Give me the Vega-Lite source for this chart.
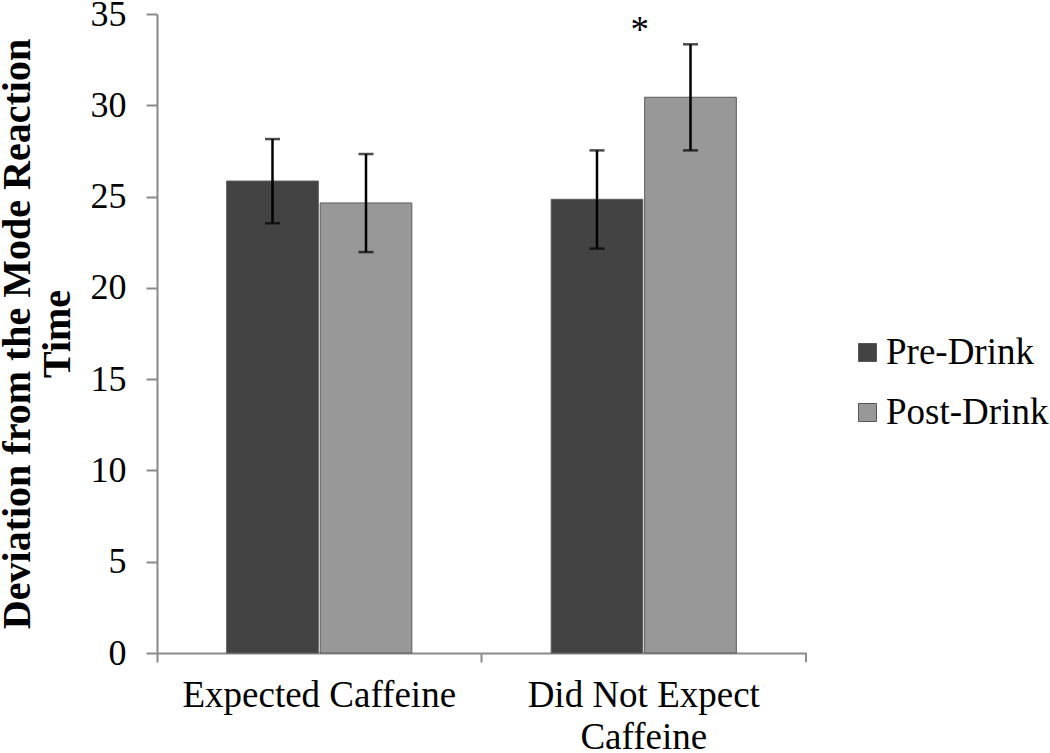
{
  "$schema": "https://vega.github.io/schema/vega-lite/v6.json",
  "width": 649,
  "height": 639,
  "autosize": {"type": "none"},
  "padding": {"left": 157, "top": 14, "right": 244, "bottom": 100},
  "background": "white",
  "config": {
    "view": {"stroke": null},
    "font": "Liberation Serif"
  },
  "datasets": {
    "bars": [
      {"group": "Expected Caffeine", "series": "Pre-Drink", "mean": 25.85, "lo": 23.54, "hi": 28.15},
      {"group": "Expected Caffeine", "series": "Post-Drink", "mean": 24.65, "lo": 21.96, "hi": 27.33},
      {"group": "Did Not Expect Caffeine", "series": "Pre-Drink", "mean": 24.85, "lo": 22.15, "hi": 27.53},
      {"group": "Did Not Expect Caffeine", "series": "Post-Drink", "mean": 30.44, "lo": 27.53, "hi": 33.34}
    ],
    "star": [
      {"group": "Did Not Expect Caffeine", "y": 33.45, "label": "*"}
    ],
    "endtick": [
      {"group": "Did Not Expect Caffeine", "y0": 0, "y1": -0.5}
    ]
  },
  "layer": [
    {
      "data": {"name": "bars"},
      "mark": {"type": "bar", "stroke": "#5a5a5a", "strokeWidth": 1},
      "encoding": {
        "x": {
          "field": "group", "type": "nominal",
          "sort": ["Expected Caffeine", "Did Not Expect Caffeine"],
          "scale": {"paddingInner": 0, "paddingOuter": 0},
          "axis": {
            "title": null,
            "bandPosition": 0,
            "labelAngle": 0,
            "labelFont": "Liberation Serif",
            "labelFontSize": 37,
            "labelColor": "black",
            "labelPadding": 15,
            "labelLineHeight": 42,
            "labelLimit": 500,
            "labelExpr": "datum.label == 'Did Not Expect Caffeine' ? ['Did Not Expect', 'Caffeine'] : datum.label",
            "tickSize": 9,
            "tickColor": "#8a8a8a",
            "tickWidth": 2,
            "domainColor": "#8a8a8a",
            "domainWidth": 2
          }
        },
        "xOffset": {
          "field": "series", "type": "nominal",
          "sort": ["Pre-Drink", "Post-Drink"],
          "scale": {"paddingInner": 0.02, "paddingOuter": 0.745}
        },
        "y": {
          "field": "mean", "type": "quantitative",
          "scale": {"domain": [0, 35], "nice": false},
          "axis": {
            "values": [0, 5, 10, 15, 20, 25, 30, 35],
            "grid": false,
            "title": ["Deviation from the Mode Reaction", "Time"],
            "titleFont": "Liberation Serif",
            "titleFontSize": 40,
            "titleFontWeight": "bold",
            "titleColor": "black",
            "titleLineHeight": 40,
            "titlePadding": 13,
            "labelFont": "Liberation Serif",
            "labelFontSize": 36,
            "labelColor": "black",
            "labelPadding": 20,
            "tickSize": 11,
            "tickColor": "#8a8a8a",
            "tickWidth": 2,
            "domainColor": "#8a8a8a",
            "domainWidth": 2
          }
        },
        "color": {
          "field": "series", "type": "nominal",
          "sort": ["Pre-Drink", "Post-Drink"],
          "scale": {"domain": ["Pre-Drink", "Post-Drink"], "range": ["#434343", "#989898"]},
          "legend": {
            "title": null,
            "orient": "none",
            "legendX": 692,
            "legendY": 320,
            "symbolType": "square",
            "symbolSize": 324,
            "symbolStrokeColor": "#555555",
            "symbolStrokeWidth": 1,
            "labelFont": "Liberation Serif",
            "labelFontSize": 37,
            "labelColor": "black",
            "labelOffset": 0,
            "labelLimit": 300,
            "rowPadding": 22,
            "padding": 0
          }
        }
      }
    },
    {
      "data": {"name": "bars"},
      "mark": {"type": "rule", "color": "black", "strokeWidth": 2.5},
      "encoding": {
        "x": {"field": "group", "type": "nominal", "sort": ["Expected Caffeine", "Did Not Expect Caffeine"]},
        "xOffset": {"field": "series", "type": "nominal", "sort": ["Pre-Drink", "Post-Drink"]},
        "y": {"field": "lo", "type": "quantitative"},
        "y2": {"field": "hi"}
      }
    },
    {
      "data": {"name": "bars"},
      "mark": {"type": "tick", "color": "black", "thickness": 2.5, "size": 15, "orient": "horizontal"},
      "encoding": {
        "x": {"field": "group", "type": "nominal", "sort": ["Expected Caffeine", "Did Not Expect Caffeine"]},
        "xOffset": {"field": "series", "type": "nominal", "sort": ["Pre-Drink", "Post-Drink"]},
        "y": {"field": "lo", "type": "quantitative"}
      }
    },
    {
      "data": {"name": "bars"},
      "mark": {"type": "tick", "color": "black", "thickness": 2.5, "size": 15, "orient": "horizontal"},
      "encoding": {
        "x": {"field": "group", "type": "nominal", "sort": ["Expected Caffeine", "Did Not Expect Caffeine"]},
        "xOffset": {"field": "series", "type": "nominal", "sort": ["Pre-Drink", "Post-Drink"]},
        "y": {"field": "hi", "type": "quantitative"}
      }
    },
    {
      "data": {"name": "star"},
      "mark": {"type": "text", "fontSize": 37, "font": "Liberation Serif", "color": "black", "baseline": "alphabetic", "dx": -4},
      "encoding": {
        "x": {"field": "group", "type": "nominal", "sort": ["Expected Caffeine", "Did Not Expect Caffeine"]},
        "y": {"field": "y", "type": "quantitative"},
        "text": {"field": "label"}
      }
    },
    {
      "data": {"name": "endtick"},
      "mark": {"type": "rule", "color": "#8a8a8a", "strokeWidth": 2},
      "encoding": {
        "x": {"field": "group", "type": "nominal", "bandPosition": 1, "sort": ["Expected Caffeine", "Did Not Expect Caffeine"]},
        "y": {"field": "y0", "type": "quantitative"},
        "y2": {"field": "y1"}
      }
    }
  ]
}
